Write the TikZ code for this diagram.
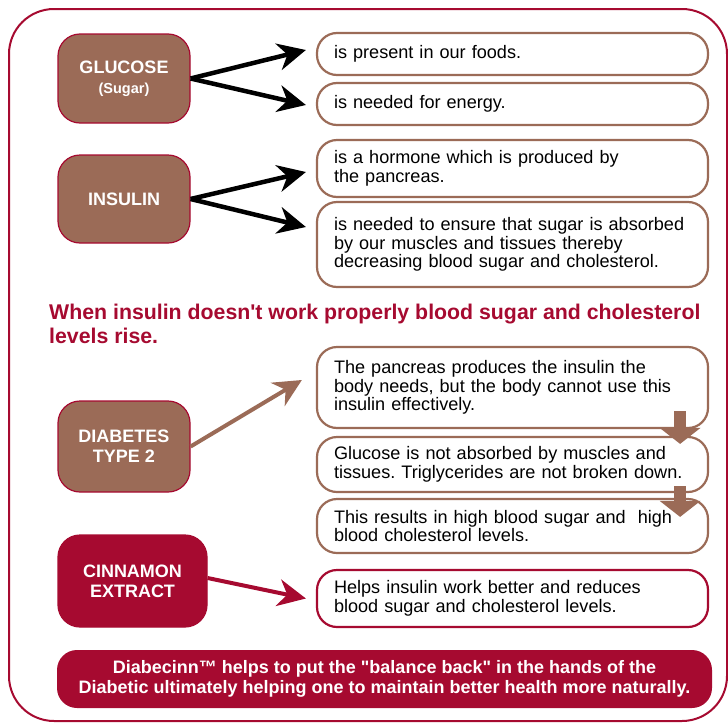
\documentclass[tikz,border=0pt]{standalone}
\usepackage{fontspec}
\setmainfont{Liberation Sans}
\usetikzlibrary{arrows.meta}

\definecolor{cinnred}{RGB}{166,10,48}
\definecolor{sugarbrown}{RGB}{155,107,87}

\frenchspacing

\begin{document}
\begin{tikzpicture}[x=1pt, y=-1pt,
    keybox/.style={draw=cinnred, line width=1.2pt, fill=sugarbrown, rounded corners=22pt,
        text=white, font=\fontsize{18}{20}\selectfont\bfseries, align=center,
        minimum width=132pt, inner sep=0pt},
    factbox/.style={draw=sugarbrown, line width=2.2pt, fill=white, rounded corners=20pt,
        minimum width=391pt, text width=357pt, align=left, inner sep=0pt,
        font=\fontsize{18.1}{18.5}\selectfont},
    pointer/.style={line width=4.5pt, -{Stealth[length=28pt,width=27pt,inset=9pt]}},
    downarrow/.style={sugarbrown, line width=12pt, -{Triangle[length=16pt,width=40pt]}}
  ]
    \useasboundingbox (0,0) rectangle (728,723);

    % Frame
    \draw[cinnred, line width=2pt, rounded corners=45pt] (9,9) rectangle (727,721);

    % Glucose
    \node[keybox, minimum height=89pt] (glucose) at (124,78.5)
        {GLUCOSE\\{\fontsize{14.5}{15}\selectfont(Sugar)}};
    \node[factbox, minimum height=42pt] (food) at (512.5,54) {is present in our foods.};
    \node[factbox, minimum height=42pt] (energy) at (512.5,104) {is needed for energy.};
    \draw[pointer] (glucose.east) -- ([xshift=-10pt,yshift=4pt]food.west);
    \draw[pointer] (glucose.east) -- ([xshift=-10pt,yshift=-1pt]energy.west);

    % Insulin
    \node[keybox, minimum height=88pt] (insulin) at (124,199) {INSULIN};
    \node[factbox, minimum height=57pt] (hormone) at (512.5,168.5)
        {is a hormone which is produced by\\the pancreas.};
    \node[factbox, minimum height=85pt] (absorb) at (512.5,244.5)
        {is needed to ensure that sugar is absorbed\\by our muscles and tissues thereby\\decreasing blood sugar and cholesterol.};
    \draw[pointer] (insulin.east) -- ([xshift=-10pt,yshift=-3.5pt]hormone.west);
    \draw[pointer] (insulin.east) -- ([xshift=-10pt,yshift=17.5pt]absorb.west);

    % Warning
    \node[anchor=base west, inner sep=0pt, align=left, text=cinnred,
        font=\fontsize{21.3}{24}\selectfont\bfseries] (warning) at (49,343)
        {When insulin doesn\textquotesingle t work properly blood sugar and cholesterol\\levels rise.};

    % Diabetes type 2
    \node[keybox, minimum height=91pt] (diabetes) at (124,446.5) {DIABETES\\TYPE 2};
    \node[factbox, minimum height=81pt] (pancreas) at (512.5,387.5)
        {The pancreas produces the insulin the\\body needs, but the body cannot use this\\insulin effectively.};
    \node[factbox, minimum height=55pt] (notabsorbed) at (512.5,464.5)
        {Glucose is not absorbed by muscles and\\tissues. Triglycerides are not broken down.};
    \node[factbox, minimum height=54pt] (results) at (512.5,526)
        {This results in high blood sugar and \ high\\blood cholesterol levels.};
    \draw[pointer, sugarbrown, line width=4pt] (diabetes.east) -- ([xshift=-14pt,yshift=7.5pt]pancreas.west);
    \draw[downarrow] ([xshift=-29pt,yshift=18pt]pancreas.south east) -- ([xshift=-29pt,yshift=-8pt]notabsorbed.north east);
    \draw[downarrow] ([xshift=-29pt,yshift=7pt]notabsorbed.south east) -- ([xshift=-29pt,yshift=-19pt]results.north east);

    % Cinnamon extract
    \node[keybox, fill=cinnred, minimum width=149pt, minimum height=92pt] (cinnamon) at (132.5,581)
        {CINNAMON\\EXTRACT};
    \node[factbox, draw=cinnred, minimum height=57pt] (helps) at (512.5,598.5)
        {Helps insulin work better and reduces\\blood sugar and cholesterol levels.};
    \draw[pointer, cinnred, line width=4pt] ([yshift=3pt]cinnamon.east) -- ([xshift=-10pt]helps.west);

    % Slogan
    \node[fill=cinnred, rounded corners=20pt, minimum width=655pt, minimum height=58pt, inner sep=0pt,
        text=white, align=center, font=\fontsize{18}{19.5}\selectfont\bfseries] (slogan) at (384.5,679)
        {Diabecinn™ helps to put the \textquotedbl balance back\textquotedbl{} in the hands of the\\Diabetic ultimately helping one to maintain better health more naturally.};
\end{tikzpicture}
\end{document}
